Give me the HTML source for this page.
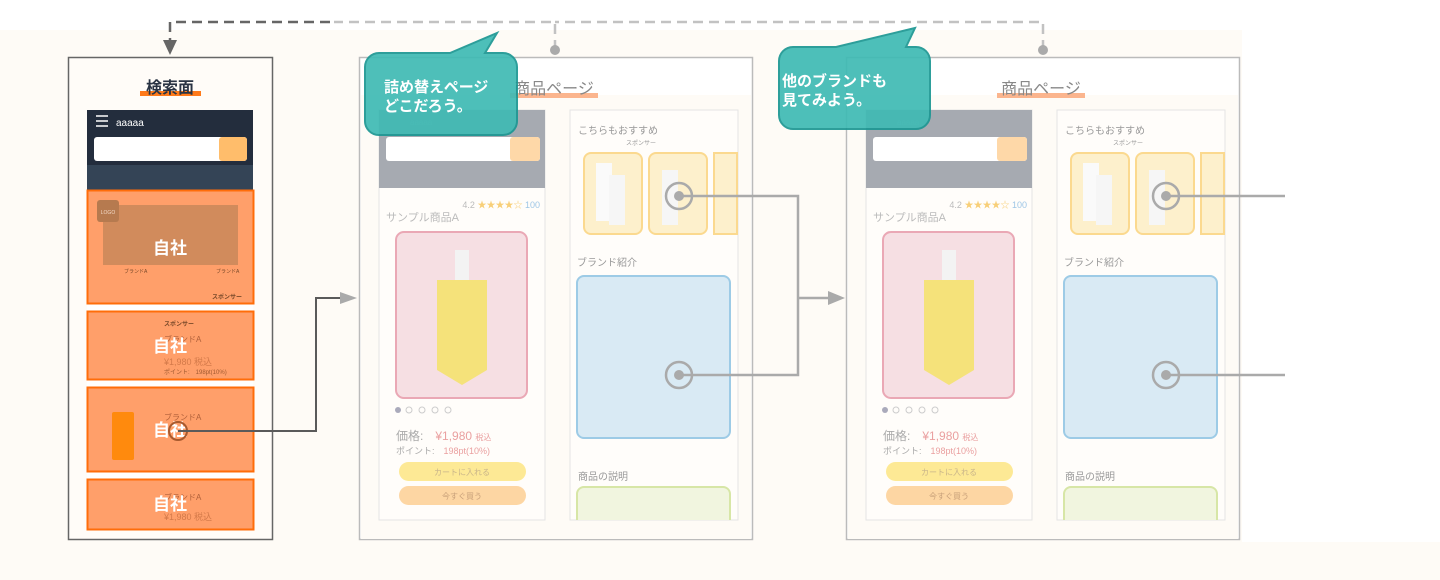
<!DOCTYPE html>
<html><head><meta charset="utf-8"><style>
html,body{margin:0;padding:0;width:1440px;height:580px;overflow:hidden;background:#fff}
svg{display:block}
text{font-family:"Liberation Sans","Noto Sans CJK JP",sans-serif}
</style></head><body>
<svg width="1440" height="580" viewBox="0 0 1440 580" xmlns="http://www.w3.org/2000/svg">
<rect x="0" y="30" width="1440" height="550" fill="#fefbf6"/>
<rect x="1242" y="30" width="198" height="512" fill="#fff"/>

<path d="M555 50 V22 H334" fill="none" stroke="#c2c2c2" stroke-width="2.5" stroke-dasharray="10 6"/>
<path d="M1043 50 V22 H555" fill="none" stroke="#c2c2c2" stroke-width="2.5" stroke-dasharray="10 6"/>
<path d="M330 22 H170 V44" fill="none" stroke="#666" stroke-width="2.5" stroke-dasharray="10 6"/>
<polygon points="163,40 177,40 170,55" fill="#666"/>
<circle cx="555" cy="50" r="5" fill="#aaa"/>
<circle cx="1043" cy="50" r="5" fill="#aaa"/>

<!-- SEARCH FRAME -->
<rect x="68.5" y="57.5" width="204" height="482" fill="#fffcf8" stroke="#666" stroke-width="1.5"/>
<rect x="140" y="91" width="61" height="5" fill="#ff7a1a"/>
<text x="170" y="93" font-size="16" font-weight="bold" fill="#2a3444" text-anchor="middle">検索面</text>
<rect x="87" y="110" width="166" height="55" fill="#232d3d"/>
<rect x="87" y="165" width="166" height="25" fill="#344456"/>
<g stroke="#fff" stroke-width="1.5"><line x1="96" y1="116" x2="108" y2="116"/><line x1="96" y1="121" x2="108" y2="121"/><line x1="96" y1="126" x2="108" y2="126"/></g>
<text x="116" y="126" font-size="10" fill="#fff">aaaaa</text>
<rect x="94" y="137" width="153" height="24" rx="3" fill="#fff"/>
<rect x="219" y="137" width="28" height="24" rx="3" fill="#ffbd6b"/>
<rect x="87" y="190" width="166" height="340" fill="#fff"/>
<g>
<rect x="87.5" y="190.5" width="166" height="113" fill="#ff9f6a" stroke="#ff6d0a" stroke-width="2"/>
<rect x="103" y="205" width="135" height="60" fill="#d18b5c"/>
<rect x="97" y="200" width="22" height="22" rx="3" fill="#b67a4f"/>
<text x="108" y="214" font-size="5" fill="#f3d9c6" text-anchor="middle">LOGO</text>
<text x="124" y="273" font-size="5" fill="#7a4a2a">ブランドA</text>
<text x="216" y="273" font-size="5" fill="#7a4a2a">ブランドA</text>
<text x="212" y="299" font-size="6" font-weight="bold" fill="#7a4a2a">スポンサー</text>
<text x="170" y="254" font-size="17" font-weight="bold" fill="#fff" text-anchor="middle">自社</text>
</g>
<g>
<rect x="87.5" y="311.5" width="166" height="68" fill="#ff9f6a" stroke="#ff6d0a" stroke-width="2"/>
<text x="164" y="326" font-size="6" font-weight="bold" fill="#7a4a2a">スポンサー</text>
<text x="164" y="342" font-size="8" fill="#b0603a">ブランドA</text>
<text x="164" y="365" font-size="9" fill="#d47a4a">¥1,980 税込</text>
<text x="164" y="374" font-size="6" fill="#a05a30">ポイント:　198pt(10%)</text>
<text x="170" y="352" font-size="17" font-weight="bold" fill="#fff" text-anchor="middle">自社</text>
</g>
<g>
<rect x="87.5" y="387.5" width="166" height="84" fill="#ff9f6a" stroke="#ff6d0a" stroke-width="2"/>
<rect x="112" y="412" width="22" height="48" rx="2" fill="#ff8a0d"/>
<text x="164" y="420" font-size="8" fill="#b0603a">ブランドA</text>
<text x="170" y="436" font-size="17" font-weight="bold" fill="#fff" text-anchor="middle">自社</text>
</g>
<g>
<rect x="87.5" y="479.5" width="166" height="50" fill="#ff9f6a" stroke="#ff6d0a" stroke-width="2"/>
<text x="164" y="500" font-size="8" fill="#b0603a">ブランドA</text>
<text x="164" y="520" font-size="9" fill="#d47a4a">¥1,980 税込</text>
<text x="170" y="510" font-size="17" font-weight="bold" fill="#fff" text-anchor="middle">自社</text>
</g>
<circle cx="178" cy="431" r="9" fill="none" stroke="#a85a2e" stroke-width="2"/>
<path d="M178 431 H316 V298 H340" fill="none" stroke="#5a5a5a" stroke-width="2"/>
<polygon points="340,292 357,298 340,304" fill="#aaa"/>

<!-- PRODUCT FRAME 1 -->
<g>
<rect x="359.5" y="57.5" width="393" height="482" fill="#fff" stroke="#bbb" stroke-width="1.5"/>
<rect x="361" y="95" width="390" height="444" fill="#fefbf6"/>
<rect x="510" y="93" width="88" height="5" fill="#fbb58e"/>
<text x="554" y="94" font-size="16" fill="#888" text-anchor="middle">商品ページ</text>
<rect x="379" y="110" width="166" height="410" fill="#fffdfa" stroke="#e4e4e4"/>
<rect x="379" y="110" width="166" height="78" fill="#a6aab1"/>
<rect x="386" y="137" width="154" height="24" rx="3" fill="#fff"/>
<rect x="510" y="137" width="30" height="24" rx="3" fill="#fed8a8"/>
<text x="410" y="125" font-size="8" fill="#c3c6cc">aaaaa</text>
<text x="540" y="208" font-size="9" fill="#bbb" text-anchor="end">4.2 <tspan fill="#f8cf78">★★★★☆</tspan> <tspan fill="#9ec6e6">100</tspan></text>
<text x="386" y="221" font-size="11" fill="#bbb">サンプル商品A</text>
<rect x="396" y="232" width="131" height="166" rx="8" fill="#f6dfe3" stroke="#eaa8b5" stroke-width="2"/>
<rect x="437" y="280" width="50" height="90" fill="#f5e27a"/>
<polygon points="437,370 462,385 487,370" fill="#f5e27a"/>
<rect x="455" y="250" width="14" height="30" fill="#f3f3f3"/>
<g fill="none" stroke="#ccc"><circle cx="409" cy="410" r="3"/><circle cx="422" cy="410" r="3"/><circle cx="435" cy="410" r="3"/><circle cx="448" cy="410" r="3"/></g>
<circle cx="398" cy="410" r="3" fill="#aab"/>
<text x="396" y="440" font-size="12" fill="#aaa">価格:　<tspan fill="#eaa0a0">¥1,980</tspan> <tspan font-size="8" fill="#eaa0a0">税込</tspan></text>
<text x="396" y="454" font-size="9" fill="#aaa">ポイント:　<tspan fill="#eaa0a0">198pt(10%)</tspan></text>
<rect x="399" y="462" width="127" height="19" rx="9.5" fill="#fde995"/>
<text x="462" y="475" font-size="8" fill="#c8b48a" text-anchor="middle">カートに入れる</text>
<rect x="399" y="486" width="127" height="19" rx="9.5" fill="#fdd6a3"/>
<text x="462" y="499" font-size="8" fill="#c8a07a" text-anchor="middle">今すぐ買う</text>
<rect x="570" y="110" width="168" height="410" fill="#fffdfa" stroke="#e4e4e4"/>
<text x="578" y="134" font-size="10" fill="#999">こちらもおすすめ</text>
<text x="626" y="145" font-size="6" fill="#999">スポンサー</text>
<rect x="584" y="153" width="58" height="81" rx="7" fill="#fdf0cc" stroke="#fbd98f" stroke-width="2"/>
<rect x="649" y="153" width="58" height="81" rx="7" fill="#fdf0cc" stroke="#fbd98f" stroke-width="2"/>
<rect x="714" y="153" width="23" height="81" fill="#fdf0cc" stroke="#fbd98f" stroke-width="2"/>
<rect x="596" y="163" width="16" height="58" fill="#fafafa"/><rect x="609" y="175" width="16" height="50" fill="#f6f6f6"/>
<rect x="662" y="170" width="16" height="55" fill="#f6f6f6"/>
<text x="577" y="266" font-size="10" fill="#999">ブランド紹介</text>
<rect x="577" y="276" width="153" height="162" rx="7" fill="#d9eaf4" stroke="#9dcbe6" stroke-width="2"/>
<text x="578" y="480" font-size="10" fill="#999">商品の説明</text>
<path d="M577 520 V494 a7 7 0 0 1 7 -7 H723 a7 7 0 0 1 7 7 V520" fill="#f1f5df" stroke="#d7e6a6" stroke-width="2"/>
</g>
<g stroke="#aaa" stroke-width="2.5" fill="none">
<circle cx="679" cy="196" r="13"/><circle cx="679" cy="375" r="13"/>
<path d="M679 196 H798 V375 H679"/><path d="M798 298 H830"/>
</g>
<circle cx="679" cy="196" r="5" fill="#aaa"/><circle cx="679" cy="375" r="5" fill="#aaa"/>
<polygon points="828,291 845,298 828,305" fill="#aaa"/>

<!-- PRODUCT FRAME 2 -->
<g transform="translate(487,0)">
<rect x="359.5" y="57.5" width="393" height="482" fill="#fff" stroke="#bbb" stroke-width="1.5"/>
<rect x="361" y="95" width="390" height="444" fill="#fefbf6"/>
<rect x="510" y="93" width="88" height="5" fill="#fbb58e"/>
<text x="554" y="94" font-size="16" fill="#888" text-anchor="middle">商品ページ</text>
<rect x="379" y="110" width="166" height="410" fill="#fffdfa" stroke="#e4e4e4"/>
<rect x="379" y="110" width="166" height="78" fill="#a6aab1"/>
<rect x="386" y="137" width="154" height="24" rx="3" fill="#fff"/>
<rect x="510" y="137" width="30" height="24" rx="3" fill="#fed8a8"/>
<text x="410" y="125" font-size="8" fill="#c3c6cc">aaaaa</text>
<text x="540" y="208" font-size="9" fill="#bbb" text-anchor="end">4.2 <tspan fill="#f8cf78">★★★★☆</tspan> <tspan fill="#9ec6e6">100</tspan></text>
<text x="386" y="221" font-size="11" fill="#bbb">サンプル商品A</text>
<rect x="396" y="232" width="131" height="166" rx="8" fill="#f6dfe3" stroke="#eaa8b5" stroke-width="2"/>
<rect x="437" y="280" width="50" height="90" fill="#f5e27a"/>
<polygon points="437,370 462,385 487,370" fill="#f5e27a"/>
<rect x="455" y="250" width="14" height="30" fill="#f3f3f3"/>
<g fill="none" stroke="#ccc"><circle cx="409" cy="410" r="3"/><circle cx="422" cy="410" r="3"/><circle cx="435" cy="410" r="3"/><circle cx="448" cy="410" r="3"/></g>
<circle cx="398" cy="410" r="3" fill="#aab"/>
<text x="396" y="440" font-size="12" fill="#aaa">価格:　<tspan fill="#eaa0a0">¥1,980</tspan> <tspan font-size="8" fill="#eaa0a0">税込</tspan></text>
<text x="396" y="454" font-size="9" fill="#aaa">ポイント:　<tspan fill="#eaa0a0">198pt(10%)</tspan></text>
<rect x="399" y="462" width="127" height="19" rx="9.5" fill="#fde995"/>
<text x="462" y="475" font-size="8" fill="#c8b48a" text-anchor="middle">カートに入れる</text>
<rect x="399" y="486" width="127" height="19" rx="9.5" fill="#fdd6a3"/>
<text x="462" y="499" font-size="8" fill="#c8a07a" text-anchor="middle">今すぐ買う</text>
<rect x="570" y="110" width="168" height="410" fill="#fffdfa" stroke="#e4e4e4"/>
<text x="578" y="134" font-size="10" fill="#999">こちらもおすすめ</text>
<text x="626" y="145" font-size="6" fill="#999">スポンサー</text>
<rect x="584" y="153" width="58" height="81" rx="7" fill="#fdf0cc" stroke="#fbd98f" stroke-width="2"/>
<rect x="649" y="153" width="58" height="81" rx="7" fill="#fdf0cc" stroke="#fbd98f" stroke-width="2"/>
<rect x="714" y="153" width="23" height="81" fill="#fdf0cc" stroke="#fbd98f" stroke-width="2"/>
<rect x="596" y="163" width="16" height="58" fill="#fafafa"/><rect x="609" y="175" width="16" height="50" fill="#f6f6f6"/>
<rect x="662" y="170" width="16" height="55" fill="#f6f6f6"/>
<text x="577" y="266" font-size="10" fill="#999">ブランド紹介</text>
<rect x="577" y="276" width="153" height="162" rx="7" fill="#d9eaf4" stroke="#9dcbe6" stroke-width="2"/>
<text x="578" y="480" font-size="10" fill="#999">商品の説明</text>
<path d="M577 520 V494 a7 7 0 0 1 7 -7 H723 a7 7 0 0 1 7 7 V520" fill="#f1f5df" stroke="#d7e6a6" stroke-width="2"/>
</g>
<g stroke="#aaa" stroke-width="2.5" fill="none">
<circle cx="1166" cy="196" r="13"/><circle cx="1166" cy="375" r="13"/>
<path d="M1166 196 H1285"/><path d="M1166 375 H1285"/>
</g>
<circle cx="1166" cy="196" r="5" fill="#aaa"/><circle cx="1166" cy="375" r="5" fill="#aaa"/>

<g opacity="0.92">
<path d="M379 53 H450 L497 33 L485 53 H503 a14 14 0 0 1 14 14 V121 a14 14 0 0 1 -14 14 H379 a14 14 0 0 1 -14 -14 V67 a14 14 0 0 1 14 -14 Z" fill="#3fbab4" stroke="#1c9793" stroke-width="2"/>
<path d="M793 47 H836 L915 28 L906 47 H916 a14 14 0 0 1 14 14 V115 a14 14 0 0 1 -14 14 H793 a14 14 0 0 1 -14 -14 V61 a14 14 0 0 1 14 -14 Z" fill="#3fbab4" stroke="#1c9793" stroke-width="2"/>
</g>
<text x="384" y="92" font-size="15" font-weight="bold" fill="#fff">詰め替えページ</text>
<text x="384" y="111" font-size="15" font-weight="bold" fill="#fff">どこだろう。</text>
<text x="782" y="86" font-size="15" font-weight="bold" fill="#fff">他のブランドも</text>
<text x="782" y="105" font-size="15" font-weight="bold" fill="#fff">見てみよう。</text>
</svg>
</body></html>
